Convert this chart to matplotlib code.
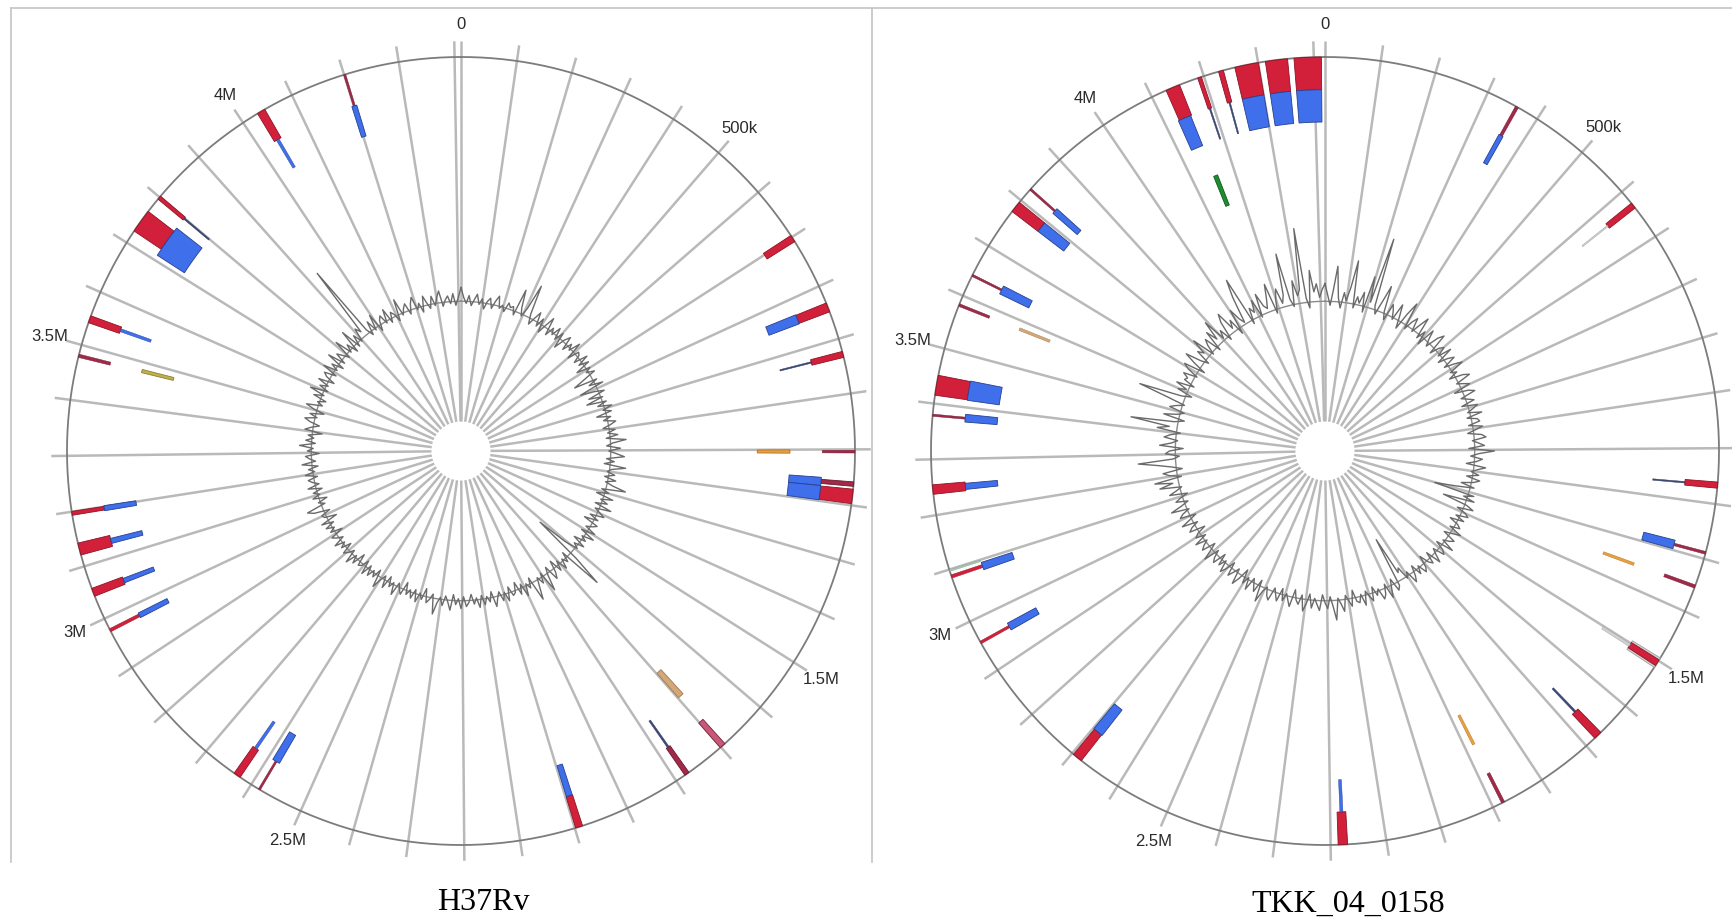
import numpy as np
import matplotlib.pyplot as plt
from matplotlib.lines import Line2D

W, H = 1733, 922

# genome lengths in kb
h37_len = 4411.5
tkk_len = 4420.0

spoke_kb = np.arange(0, 4401, 100)
tick_kb = [0, 500, 1500, 2500, 3000, 3500, 4000]
tick_labels = ["0", "500k", "1.5M", "2.5M", "3M", "3.5M", "4M"]

# H37Rv features: position (kb), width (kb), track, kind
h37_pos = [4038, 4038, 4201, 4201, 3746, 3743, 3799, 3799, 3548, 3548,
           3480, 3481, 3197, 3197, 3132, 3132, 3051, 3051, 2977, 2977,
           703, 841, 841, 929, 929, 1104, 1104, 1162, 1162, 1184, 1184,
           2630, 2630, 2583, 2583, 1992, 1992, 1777, 1777, 1692, 1696]
h37_width = [15, 6, 4, 10, 43, 65, 7, 3, 13, 6,
             6, 7, 7, 10, 22, 10, 15, 9, 6, 10,
             13, 17, 19, 11, 3, 5, 7, 8, 16, 26, 28,
             13, 6, 4, 15, 13, 12, 9, 4, 13, 11]
h37_track = [1, 2, 1, 2, 1, 2, 1, 2, 1, 2,
             1, 3, 1, 2, 1, 2, 1, 2, 1, 2,
             1, 1, 2, 1, 2, 1, 3, 1, 2, 1, 2,
             1, 2, 1, 2, 1, 2, 1, 2, 3, 1]
h37_kind = ["r", "b", "d", "b", "r", "b", "r", "k", "r", "b",
            "d", "y", "r", "b", "r", "b", "r", "b", "r", "b",
            "r", "r", "b", "r", "k", "d", "o", "d", "b", "r", "b",
            "r", "b", "d", "b", "r", "b", "d", "k", "t", "p"]

# TKK_04_0158 features
tkk_pos = [4389, 4389, 4333, 4333, 4279, 4279, 4232, 4232, 4192, 4192,
           4141, 4139, 4154, 3785, 3785, 3826, 3826, 3640, 3640, 3582, 3582,
           3433, 3433, 3379, 3379, 3246, 3246, 3087, 3087, 3098, 2958, 2958,
           632, 632, 1166, 1166, 1289, 1289, 1352, 1352,
           1504, 1504, 1504, 2688, 2688, 2178, 2178, 1880, 1880, 1672, 1672,
           358, 358]
tkk_width = [49, 49, 40, 40, 43, 43, 9, 3, 7, 3,
             26, 26, 10, 21, 21, 4, 12, 4, 17, 5, 6,
             36, 38, 4, 15, 17, 12, 6, 15, 3, 5, 15,
             11, 3, 11, 3, 5, 17, 6, 6,
             20, 12, 6, 18, 21, 17, 6, 6, 6, 15, 4,
             6, 9]
tkk_track = [1, 2, 1, 2, 1, 2, 1, 2, 1, 2,
             1, 2, 4, 1, 2, 1, 2, 1, 2, 1, 3,
             1, 2, 1, 2, 1, 2, 1, 2, 1, 1, 2,
             1, 2, 1, 2, 1, 2, 3, 1,
             1, 1, 2, 1, 2, 1, 2, 1, 3, 1, 2,
             1, 2]
tkk_kind = ["r", "b", "r", "b", "r", "b", "r", "k", "r", "k",
            "r", "b", "g", "r", "b", "d", "b", "d", "b", "d", "t",
            "r", "b", "d", "b", "r", "b", "r", "b", "m", "r", "b",
            "r", "l", "r", "k", "d", "b", "o", "d",
            "l", "r", "l", "r", "b", "r", "b", "d", "o", "r", "k",
            "d", "b"]

# inner GC line, one value per degree (offset from baseline)
h37_gc = [7, 2, -1, 3, -2, 1, 4, -1, 2, -3, 1, 3, -2, 2, 5, -1, 1, -2, 3, 1,
          2, -2, 12, 3, -1, 4, 17, 2, -3, 1, 5, -2, 3, -4, 1, 6, -3, 2, -1, 4,
          -2, 3, -5, 1, 4, -3, 2, -1, 5, -4, 2, 1, -3, 4, -2, 3, -5, 2, -1, 3,
          -4, -10, 2, -3, 4, -9, -2, 3, -6, 1, -8, 2, -3, 4, -1, 3, -5, 2, -2, 4,
          1, -3, 3, -1, 4, -2, 8, 1, -2, 5, -1, 3, 7, -2, 2, -3, 8, 1, -1, 3,
          -2, 4, -1, 3, 10, -2, 2, -4, 5, -1, 3, -3, 6, -2, 1, 4, -3, 2, -5, 3,
          1, -2, 4, -3, 5, -1, 2, -4, 3, -2, 1, -6, -22, 4, 20, -3, 2, -1, 4, -2,
          3, -4, 2, 5, -3, 1, 9, -2, 3, -1, 4, 10, -3, 2, -1, 5, -2, 3, -4, 1,
          2, -3, 4, -1, 3, -2, 1, 5, -3, 2, -1, 3, -2, 4, -1, 2, -3, 1, 3, -2,
          4, -1, 2, -3, 5, 1, -2, 3, -1, 2, 8, -2, 1, 3, -4, 2, -1, 4, -2, 3,
          -1, 2, -4, 3, 1, -2, 5, -1, 2, -3, 4, -2, 1, 6, -3, 2, -1, 3, -2, 4,
          -3, 1, 2, -4, 3, -1, 5, -2, 1, 3, -3, 2, -1, 4, -2, 1, 3, -4, 2, -1,
          3, -2, 4, -5, 1, 2, -3, 5, 8, -2, 1, -4, 3, -1, 2, -3, 4, -2, 1, 3,
          -2, 4, -1, 2, -3, 5, -2, 1, 3, -4, 2, -1, 6, -2, 3, -1, 2, -5, 4, 1,
          -3, 2, 5, -1, 3, -4, 2, 6, -2, 1, -3, 4, -1, 7, -2, 3, -1, 5, -3, 2,
          4, -2, 6, -1, 3, -3, 7, -2, 4, 1, -2, 8, -1, 3, -3, 9, -2, 4, -1, 6,
          3, 40, 2, -2, 5, -1, 7, -3, 2, 4, -1, 6, -2, 3, 1, -3, 8, -1, 2, 4,
          -2, 3, 6, -1, 2, -3, 5, 1, -2, 4, -1, 3, 6, -2, 1, 3, -1, 4, -2, 2]
tkk_gc = [9, 3, -2, 6, 18, 2, -3, 5, 1, 8, 22, -2, 4, 1, 7, -3, 16, 3, 37, 2,
          -2, 5, 14, 1, -3, 6, 3, -1, 8, 2, -4, 5, 12, -2, 3, 6, -1, 4, 9, -2,
          3, -4, 6, 1, -2, 5, 8, -3, 2, 4, -1, 6, -3, 2, 5, -2, 3, 7, -1, 2,
          -3, 4, 7, -1, 2, 5, -4, 3, 6, -2, 1, 4, -3, 5, 2, -1, 6, -2, 3, 4,
          -2, 5, 1, -3, 4, 6, -1, 2, 5, -3, 10, 2, -2, 4, 1, -4, 6, 2, -1, 3,
          -3, 4, 1, -5, 2, -8, -18, 3, -2, 4, -12, 1, 5, -3, 2, 4, -2, 3, -4, 1,
          3, -2, 5, 1, -3, 4, 2, -1, 6, -3, 2, 4, -2, 1, 5, -3, 3, 1, -4, 2,
          4, -1, 3, -3, 2, 5, -2, 1, -6, -4, -24, 2, 4, -3, 1, 6, -2, 3, 5, -1,
          2, -3, 4, 1, -2, 5, -1, 3, 2, -4, 4, 1, -2, 6, 2, -1, 10, 3, -2, 4,
          1, -3, 5, 2, -1, 4, -3, 2, 6, -2, 3, 1, -4, 5, 2, -1, 3, -3, 4, 1,
          -2, 5, 3, -1, 2, 8, -3, 4, 1, -2, 5, -1, 3, -4, 2, 6, -2, 1, 4, -3,
          2, 5, -1, 3, -3, 4, 2, -2, 6, 1, -3, 4, 2, -1, 5, -2, 3, 1, -4, 4,
          2, -2, 6, 1, -3, 5, 3, -1, 8, 2, -2, 4, 1, -3, 6, 2, -1, 10, 3, 12,
          -2, 4, 7, -3, 2, 9, 19, 1, -2, 5, 3, -4, 8, 2, -1, 6, 3, -2, 10, 4,
          24, 2, -3, 8, 1, -2, 6, 3, -1, 9, 24, 2, -3, 5, 1, 7, -2, 4, 3, 6,
          -1, 5, 8, -3, 4, 10, 2, -2, 6, 3, 11, -1, 4, 7, -2, 9, 3, 13, 1, 5,
          -2, 8, 12, 2, 6, -3, 10, 4, 1, 15, 24, -2, 6, 3, 9, -1, 11, 4, 2, 7,
          14, -2, 5, 10, 2, 6, 27, 3, -1, 12, 4, 7, 38, 2, -3, 16, 5, 9, 2, 6]

# styling
R_PX = 394
RMAX = 1.15
TRACKS = {1: (0.917, 1.0), 2: (0.835, 0.917), 3: (0.752, 0.835), 4: (0.670, 0.752)}
KIND_COLORS = {
    "r": ("#d2203a", "#8c1426"),
    "b": ("#3f6fea", "#26418f"),
    "d": ("#a02a48", "#6a1830"),
    "k": ("#3d4a7a", "#2a3358"),
    "o": ("#e8a040", "#b07020"),
    "t": ("#d2a878", "#a07850"),
    "y": ("#bfb24a", "#8a8030"),
    "g": ("#1f8c30", "#0f5a1a"),
    "p": ("#c8587a", "#7a2038"),
    "l": ("#d0d0d0", "#a0a0a0"),
    "m": ("#a8c8b0", "#88a890"),
}
GC_BASE = 0.38
GC_UNIT = 0.005

fig = plt.figure(figsize=(W / 100, H / 100), dpi=100)


def polar_at(cx, cy):
    side = 2 * RMAX * R_PX
    ax = fig.add_axes([(cx - side / 2) / W, (H - cy - side / 2) / H, side / W, side / H],
                      projection="polar")
    ax.set_theta_zero_location("N")
    ax.set_theta_direction(-1)
    ax.set_ylim(0, RMAX)
    ax.set_axis_off()
    return ax


def draw_panel(ax, glen, pos, width, track, kind, gc):
    to_rad = lambda kb: 2 * np.pi * np.asarray(kb, dtype=float) / glen
    # spokes
    for th in to_rad(spoke_kb):
        ax.plot([th, th], [0.075, 1.04], color="#b9b9b9", lw=1.8, zorder=1,
                solid_capstyle="butt")
    full = np.linspace(0, 2 * np.pi, 721)
    ax.plot(full, np.ones_like(full), color="#7c7c7c", lw=1.3, zorder=2)
    ax.plot(full, np.full_like(full, GC_BASE), color="#8a8a8a", lw=1.0, zorder=2)
    # GC line
    gth = np.deg2rad(np.arange(len(gc)) * 360.0 / len(gc))
    gr = GC_BASE + GC_UNIT * np.asarray(gc, dtype=float)
    ax.plot(np.append(gth, gth[0]), np.append(gr, gr[0]), color="#6a6a6a", lw=1.0, zorder=3)
    # feature bars
    for p, w, t, k in zip(pos, width, track, kind):
        r0, r1 = TRACKS[t]
        face, edge = KIND_COLORS[k]
        ax.bar(to_rad(p), r1 - r0, width=to_rad(w), bottom=r0, color=face,
               edgecolor=edge, linewidth=0.6 if w > 6 else 0.3, zorder=4)
    # tick labels
    for kb, lab in zip(tick_kb, tick_labels):
        ax.text(to_rad(kb), 1.083, lab, ha="center", va="center", fontsize=12,
                family="Liberation Sans", color="#2a2a2a")


ax1 = polar_at(461, 451)
draw_panel(ax1, h37_len, h37_pos, h37_width, h37_track, h37_kind, h37_gc)
ax2 = polar_at(1325, 451)
draw_panel(ax2, tkk_len, tkk_pos, tkk_width, tkk_track, tkk_kind, tkk_gc)

# panel frames
frame = dict(color="#c4c4c4", lw=1.2, transform=fig.transFigure)
fig.add_artist(Line2D([11 / W, 1.0], [1 - 8 / H, 1 - 8 / H], **frame))
fig.add_artist(Line2D([11 / W, 11 / W], [1 - 8 / H, 1 - 862 / H], **frame))
fig.add_artist(Line2D([872 / W, 872 / W], [1 - 8 / H, 1 - 862 / H], **frame))

fig.text(483 / W, 1 - 910 / H, "H37Rv", ha="center", va="baseline",
         fontsize=23, family="Liberation Serif")
fig.text(1348 / W, 1 - 912 / H, "TKK_04_0158", ha="center", va="baseline",
         fontsize=23, family="Liberation Serif")

fig.savefig("out.png", dpi=100)
